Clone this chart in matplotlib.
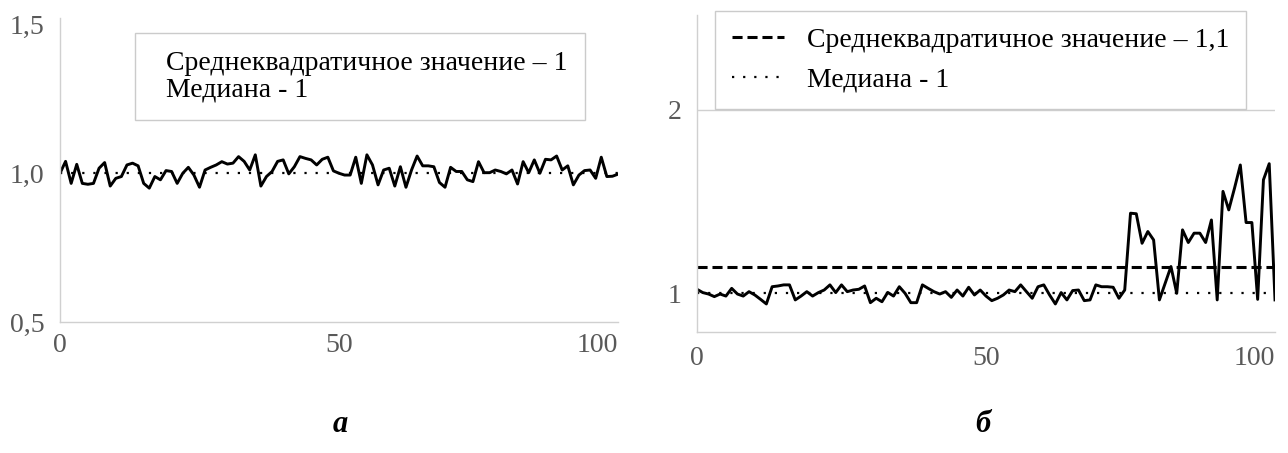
import numpy as np
import matplotlib
matplotlib.use("Agg")
import matplotlib.pyplot as plt

plt.rcParams["font.family"] = ["Liberation Serif", "DejaVu Serif"]

# (а) stable signal
left_values = [
    1.000, 1.040, 0.966, 1.030, 0.966, 0.963, 0.966, 1.017, 1.036, 0.957,
    0.983, 0.989, 1.028, 1.034, 1.025, 0.966, 0.950, 0.989, 0.978, 1.009,
    1.006, 0.966, 1.000, 1.020, 0.994, 0.953, 1.011, 1.020, 1.028, 1.039,
    1.031, 1.034, 1.056, 1.040, 1.011, 1.062, 0.957, 0.989, 1.006, 1.040,
    1.045, 0.998, 1.022, 1.056, 1.050, 1.045, 1.028, 1.047, 1.054, 1.008,
    1.000, 0.994, 0.994, 1.054, 0.966, 1.062, 1.028, 0.961, 1.011, 1.017,
    0.957, 1.022, 0.953, 1.011, 1.058, 1.025, 1.025, 1.022, 0.969, 0.953,
    1.020, 1.006, 1.006, 0.978, 0.972, 1.039, 1.002, 1.002, 1.011, 1.006,
    0.998, 1.011, 0.964, 1.039, 1.002, 1.045, 1.000, 1.047, 1.045, 1.058,
    1.011, 1.025, 0.961, 0.994, 1.009, 1.011, 0.983, 1.054, 0.989, 0.990,
    0.997,
]
left_median = 1.0

# (б) signal with outliers at the end
right_values = [
    1.022, 1.004, 0.996, 0.982, 0.996, 0.985, 1.027, 0.996, 0.985, 1.009,
    0.991, 0.967, 0.942, 1.036, 1.040, 1.046, 1.046, 0.964, 0.985, 1.009,
    0.985, 1.004, 1.018, 1.046, 1.004, 1.046, 1.009, 1.018, 1.022, 1.040,
    0.949, 0.973, 0.954, 1.005, 0.985, 1.036, 1.000, 0.949, 0.949, 1.046,
    1.027, 1.009, 0.996, 1.009, 0.978, 1.018, 0.985, 1.033, 0.991, 1.018,
    0.985, 0.960, 0.973, 0.991, 1.018, 1.009, 1.046, 1.009, 0.973, 1.036,
    1.046, 0.991, 0.942, 1.004, 0.964, 1.015, 1.018, 0.960, 0.964, 1.046,
    1.036, 1.036, 1.033, 0.973, 1.018, 1.437, 1.434, 1.273, 1.337, 1.291,
    0.964, 1.055, 1.146, 1.000, 1.346, 1.277, 1.328, 1.328, 1.277, 1.400,
    0.964, 1.556, 1.455, 1.574, 1.700, 1.386, 1.386, 0.967, 1.619, 1.707,
    0.964,
]
right_rms = 1.142
right_median = 1.0

left_labels = ["Среднеквадратичное значение – 1", "Медиана - 1"]
right_labels = ["Среднеквадратичное значение – 1,1", "Медиана - 1"]
x_ticks = [0, 50, 100]

AXIS_GREY = "#d0d0d0"
TEXT_GREY = "#595959"
DOTS = (0, (1, 4))


def style_axes(ax):
    for side in ("top", "right"):
        ax.spines[side].set_visible(False)
    for side in ("left", "bottom"):
        ax.spines[side].set_color(AXIS_GREY)
        ax.spines[side].set_linewidth(1.0)
    ax.tick_params(length=0, labelsize=20, labelcolor=TEXT_GREY)
    ax.set_xticks(x_ticks)
    ax.set_xticklabels([str(t) for t in x_ticks])
    ax.get_xticklabels()[-1].set_horizontalalignment("right")


def style_legend(leg):
    leg.get_frame().set_edgecolor("#bfbfbf")
    leg.get_frame().set_linewidth(1.0)


fig = plt.figure(figsize=(12.88, 4.53), dpi=100)

# ---- (а) ----
ax1 = fig.add_axes([60 / 1288, 1 - 322 / 453, 558 / 1288, 304 / 453])
x1 = np.arange(len(left_values))
ax1.plot(x1, left_values, color="black", lw=2.1, label=left_labels[0])
ax1.axhline(left_median, color="black", lw=1.6, ls=DOTS, label=left_labels[1])
ax1.set_xlim(0, 100)
ax1.set_ylim(0.5, 1.522)
ax1.set_yticks([0.5, 1.0, 1.5])
ax1.set_yticklabels(["0,5", "1,0", "1,5"])
style_axes(ax1)
ax1.tick_params(axis="x", pad=8)
ax1.tick_params(axis="y", pad=11)
leg1 = ax1.legend(loc="upper left", bbox_to_anchor=(135 / 1288, 1 - 33 / 453),
                  bbox_transform=fig.transFigure, borderaxespad=0,
                  fontsize=20, frameon=True, fancybox=False,
                  handlelength=0, handletextpad=0.5, labelspacing=0.06,
                  borderpad=0.62)
for h in leg1.legend_handles:
    h.set_visible(False)
style_legend(leg1)

# ---- (б) ----
ax2 = fig.add_axes([697 / 1288, 1 - 332 / 453, 578 / 1288, 317 / 453])
x2 = np.arange(len(right_values))
ax2.axhline(2, color=AXIS_GREY, lw=1.0, zorder=0)
ax2.plot(x2, right_values, color="black", lw=2.1)
ax2.axhline(right_rms, color="black", lw=2.2, ls=(0, (3.3, 1.6)),
            label=right_labels[0])
ax2.axhline(right_median, color="black", lw=1.6, ls=DOTS,
            label=right_labels[1])
ax2.set_xlim(0, 100)
ax2.set_ylim(0.789, 2.518)
ax2.set_yticks([1, 2])
ax2.set_yticklabels(["1", "2"])
style_axes(ax2)
ax2.tick_params(axis="x", pad=10)
ax2.tick_params(axis="y", pad=11)
leg2 = ax2.legend(loc="upper left", bbox_to_anchor=(715 / 1288, 1 - 11 / 453),
                  bbox_transform=fig.transFigure, borderaxespad=0,
                  fontsize=20, frameon=True, fancybox=False,
                  handlelength=1.9, handletextpad=0.8, labelspacing=0.5,
                  borderpad=0.6)
style_legend(leg2)

# panel letters
fig.text(340 / 1288, 1 - 425 / 453, "а", fontsize=22, fontweight="bold",
         fontstyle="italic", ha="center", va="center")
fig.text(983 / 1288, 1 - 425 / 453, "б", fontsize=22, fontweight="bold",
         fontstyle="italic", ha="center", va="center")

fig.savefig("out.png", dpi=100)
